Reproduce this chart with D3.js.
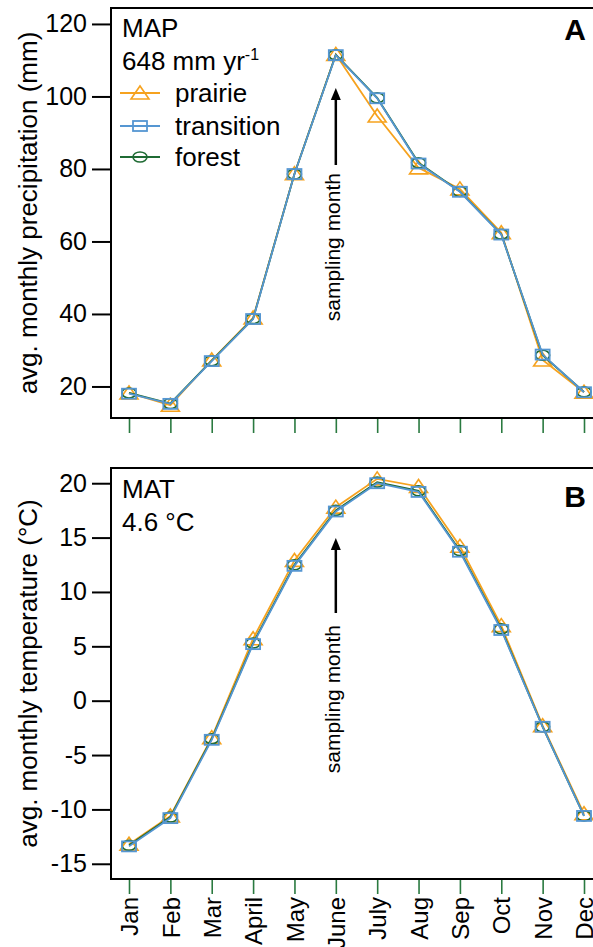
<!DOCTYPE html>
<html><head><meta charset="utf-8">
<script src="https://cdn.jsdelivr.net/npm/d3@7/dist/d3.min.js"></script>
<style>body{margin:0;background:#fff}svg{display:block;font-family:"Liberation Sans",Arial,Helvetica,sans-serif}</style>
</head><body>
<svg id="c" width="593" height="947"></svg>
<script>
const months = ["Jan","Feb","Mar","April","May","June","July","Aug","Sep","Oct","Nov","Dec"];
const precipPrairie    = [18.2, 14.8, 27.3, 38.9, 78.7, 111.6, 94.6, 80.3, 74.5, 62.4, 27.3, 18.4];
const precipTransition = [18.0, 15.2, 27.0, 38.6, 78.6, 111.4, 99.5, 81.5, 73.7, 61.9, 28.8, 18.4];
const precipForest     = [18.2, 15.3, 27.1, 38.7, 78.6, 111.5, 99.6, 81.7, 73.8, 62.0, 28.6, 18.5];
const tempPrairie      = [-13.2, -10.6, -3.4, 5.7, 12.9, 17.8, 20.4, 19.7, 14.2, 6.9, -2.3, -10.4];
const tempTransition   = [-13.4, -10.8, -3.6, 5.2, 12.4, 17.4, 20.0, 19.2, 13.7, 6.5, -2.4, -10.6];
const tempForest       = [-13.3, -10.7, -3.5, 5.3, 12.5, 17.5, 20.1, 19.3, 13.8, 6.6, -2.4, -10.6];
const precipTicks = [20, 40, 60, 80, 100, 120];
const tempTicks = [-15, -10, -5, 0, 5, 10, 15, 20];
const seriesNames = ["prairie", "transition", "forest"];

const C = {prairie:"#f6a21e", transition:"#5596d2", forest:"#1f6b34", tick:"#2a7a40"};
const svg = d3.select("#c");
const left = 111, right = 593;
const x = d3.scalePoint().domain(months).range([129, 584]);

function marker(g, type, cx, cy, color){
  if(type==="prairie"){
    g.append("path").attr("d",`M${cx-9},${cy+6}L${cx},${cy-7}L${cx+9},${cy+6}Z`)
     .attr("fill","none").attr("stroke",color).attr("stroke-width",1.6);
  } else if(type==="transition"){
    g.append("rect").attr("x",cx-7).attr("y",cy-5).attr("width",14).attr("height",10)
     .attr("fill","none").attr("stroke",color).attr("stroke-width",1.8);
  } else {
    g.append("ellipse").attr("cx",cx).attr("cy",cy).attr("rx",7).attr("ry",5)
     .attr("fill","none").attr("stroke",color).attr("stroke-width",1.6);
  }
}

function panel(top, bottom, domain, ticks, data, title, showLabels){
  const y = d3.scaleLinear().domain(domain).range([bottom, top]);
  const g = svg.append("g");
  g.append("line").attr("x1",left).attr("x2",right).attr("y1",top).attr("y2",top).attr("stroke","#000").attr("stroke-width",2);
  const ya = g.append("g").attr("transform",`translate(${left},0)`)
    .call(d3.axisLeft(y).tickValues(ticks).tickFormat(d=>String(d)).tickSize(19).tickPadding(5).tickSizeOuter(0));
  ya.select(".domain").remove();
  ya.selectAll(".tick line").attr("stroke","#000").attr("stroke-width",2);
  ya.selectAll(".tick text").attr("font-size",25).attr("fill","#000");
  g.append("line").attr("x1",left).attr("x2",left).attr("y1",top-1).attr("y2",bottom+1).attr("stroke","#000").attr("stroke-width",2);
  const xa = g.append("g").attr("transform",`translate(0,${bottom})`)
    .call(d3.axisBottom(x).tickSize(15).tickPadding(3));
  xa.select(".domain").remove();
  xa.selectAll(".tick line").attr("stroke",C.tick).attr("stroke-width",1.6);
  if(showLabels){
    xa.selectAll(".tick text").attr("font-size",24).attr("fill","#000")
      .attr("transform","rotate(-90)").attr("text-anchor","end")
      .attr("x",-18).attr("y",0).attr("dy","0.36em");
  } else {
    xa.selectAll(".tick text").remove();
  }
  g.append("line").attr("x1",left).attr("x2",right).attr("y1",bottom).attr("y2",bottom).attr("stroke","#000").attr("stroke-width",2);

  g.append("text").attr("transform",`translate(37,${(top+bottom)/2}) rotate(-90)`)
    .attr("text-anchor","middle").attr("font-size",26).text(title);

  const line = d3.line().x((d,i)=>x(months[i])).y(d=>y(d));
  const order = ["prairie","forest","transition"];
  order.forEach(name=>{
    const vals = data[name];
    const sg = g.append("g");
    sg.append("path").attr("d",line(vals)).attr("fill","none").attr("stroke",C[name]).attr("stroke-width",1.8);
    vals.forEach((v,i)=>marker(sg,name,x(months[i]),y(v),C[name]));
  });
  return y;
}

panel(8, 418, [11.3, 124.4], precipTicks,
  {prairie:precipPrairie, transition:precipTransition, forest:precipForest},
  "avg. monthly precipitation (mm)", false);
panel(468, 879, [-16.4, 21.4], tempTicks,
  {prairie:tempPrairie, transition:tempTransition, forest:tempForest},
  "avg. monthly temperature (°C)", true);

svg.append("text").attr("x",122).attr("y",37).attr("font-size",26).text("MAP");
const t2 = svg.append("text").attr("x",122).attr("y",70).attr("font-size",26);
t2.append("tspan").text("648 mm yr");
t2.append("tspan").attr("font-size",16).attr("dy",-10).text("-1");
svg.append("text").attr("x",586).attr("y",40).attr("text-anchor","end").attr("font-size",30).attr("font-weight","bold").text("A");

const legY = [93, 126, 157];
seriesNames.forEach((name,i)=>{
  const lg = svg.append("g");
  lg.append("line").attr("x1",120).attr("x2",160).attr("y1",legY[i]).attr("y2",legY[i]).attr("stroke",C[name]).attr("stroke-width",1.8);
  marker(lg,name,140,legY[i],C[name]);
  lg.append("text").attr("x",175).attr("y",legY[i]+9).attr("font-size",26).text(name);
});

svg.append("text").attr("x",122).attr("y",498).attr("font-size",26).text("MAT");
svg.append("text").attr("x",122).attr("y",531).attr("font-size",26).text("4.6 °C");
svg.append("text").attr("x",586).attr("y",507).attr("text-anchor","end").attr("font-size",30).attr("font-weight","bold").text("B");

function arrow(tipY, tailY, textTop){
  const ax = x("June");
  svg.append("line").attr("x1",ax).attr("x2",ax).attr("y1",tailY).attr("y2",tipY+10).attr("stroke","#000").attr("stroke-width",2.5);
  svg.append("path").attr("d",`M${ax},${tipY}L${ax-5},${tipY+12}L${ax+5},${tipY+12}Z`).attr("fill","#000");
  svg.append("text").attr("transform",`translate(${ax+4},${textTop}) rotate(-90)`)
    .attr("text-anchor","end").attr("font-size",21).text("sampling month");
}
arrow(88, 165, 173);
arrow(538, 613, 625);
</script>
</body></html>
